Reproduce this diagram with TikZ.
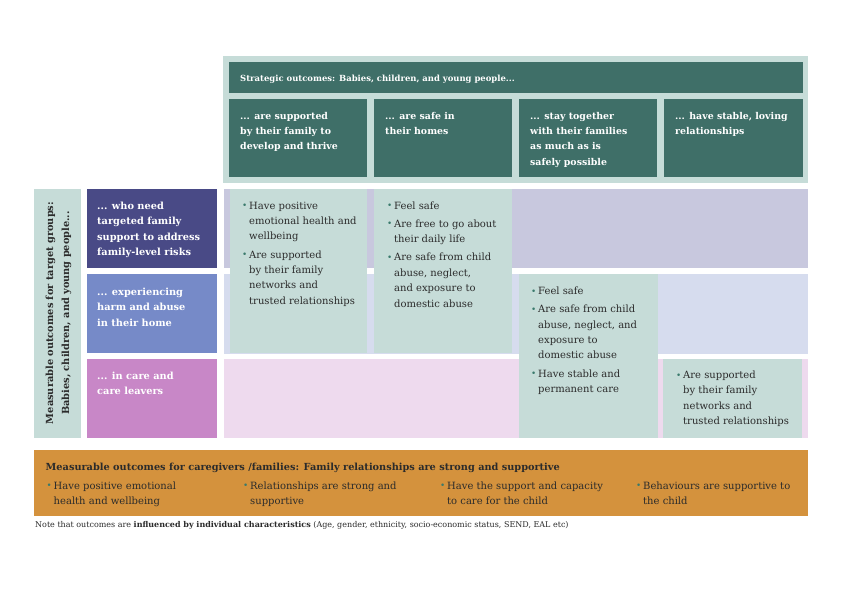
\documentclass[tikz,border=0pt]{standalone}
\usepackage{fontspec}
\setmainfont{DejaVu Serif}
\definecolor{lightg}{HTML}{C6DCD8}
\definecolor{darkt}{HTML}{3F6F68}
\definecolor{rowAl}{HTML}{494A86}
\definecolor{rowAb}{HTML}{C8C8DE}
\definecolor{rowBl}{HTML}{768AC8}
\definecolor{rowBb}{HTML}{D6DCEE}
\definecolor{rowCl}{HTML}{C887C7}
\definecolor{rowCb}{HTML}{EEDAEE}
\definecolor{orng}{HTML}{D4923D}
\definecolor{bul}{HTML}{3A7A6C}
\definecolor{txt}{HTML}{2B2B2B}
\newcommand{\txl}[1]{\vtop{\hsize=260pt\parindent=0pt\parskip=2.8pt\relax #1}}
\newcommand{\bitem}[1]{\par\hangindent=7pt\hangafter=1\noindent\makebox[7pt][l]{\raisebox{0.4pt}{\textcolor{bul}{\fontsize{8.8}{8.8}\selectfont\textbullet}}}#1}
\tikzset{
  body/.style={anchor=base west, inner sep=0pt, text=txt, font=\fontsize{10}{15.4}\selectfont},
  tealtxt/.style={anchor=base west, inner sep=0pt, text=white, font=\fontsize{9.4}{15.4}\selectfont\bfseries},
  rowtxt/.style={anchor=base west, inner sep=0pt, text=white, font=\fontsize{9.8}{15.5}\selectfont\bfseries},
}
\begin{document}
\begin{tikzpicture}[x=1pt,y=-1pt]
\useasboundingbox (0,0) rectangle (841,595);
\fill[white] (0,0) rectangle (841,595);
% top strategic block
\fill[lightg] (223,56) rectangle (808,183);
\fill[darkt] (229,62) rectangle (803,93);
\fill[darkt] (229,99) rectangle (367,177);
\fill[darkt] (374,99) rectangle (512,177);
\fill[darkt] (519,99) rectangle (657,177);
\fill[darkt] (664,99) rectangle (803,177);
\node[tealtxt, font=\fontsize{8.45}{12}\selectfont\bfseries] (hdr) at (240,81) {Strategic outcomes: Babies, children, and young people...};
\node[tealtxt] (s1) at (240,119) {\txl{... are supported\\by their family to\\develop and thrive}};
\node[tealtxt] (s2) at (385,119) {\txl{... are safe in\\their homes}};
\node[tealtxt] (s3) at (530,119) {\txl{... stay together\\with their families\\as much as is\\safely possible}};
\node[tealtxt] (s4) at (675,119) {\txl{... have stable, loving\\relationships}};
% left vertical label
\fill[lightg] (34,189) rectangle (81,438);
\node[rotate=90, align=center, text=txt, inner sep=0pt, font=\fontsize{9.8}{16}\selectfont\bfseries] (vlab) at (58.5,313) {Measurable outcomes for target groups:\\Babies, children, and young people...};
% row labels
\fill[rowAl] (87,189) rectangle (217,268);
\fill[rowBl] (87,274) rectangle (217,353);
\fill[rowCl] (87,359) rectangle (217,438);
\node[rowtxt] (r1) at (97,209) {\txl{... who need\\targeted family\\support to address\\family-level risks}};
\node[rowtxt] (r2) at (97,295) {\txl{... experiencing\\harm and abuse\\in their home}};
\node[rowtxt] (r3) at (97,379) {\txl{... in care and\\care leavers}};
% row backgrounds
\fill[rowAb] (224,189) rectangle (808,268);
\fill[rowBb] (224,274) rectangle (808,354);
\fill[rowCb] (224,359) rectangle (808,438);
% green cells
\fill[lightg] (230,189) rectangle (367,353);
\fill[lightg] (374,189) rectangle (512,353);
\fill[lightg] (519,274) rectangle (658,438);
\fill[lightg] (663,359) rectangle (802,438);
\node[body] (c1) at (242,209) {\txl{\bitem{Have positive\\emotional health and\\wellbeing}\bitem{Are supported\\by their family\\networks and\\trusted relationships}}};
\node[body] (c2) at (387,209) {\txl{\bitem{Feel safe}\bitem{Are free to go about\\their daily life}\bitem{Are safe from child\\abuse, neglect,\\and exposure to\\domestic abuse}}};
\node[body] (c3) at (531,294.5) {\txl{\bitem{Feel safe}\bitem{Are safe from child\\abuse, neglect, and\\exposure to\\domestic abuse}\bitem{Have stable and\\permanent care}}};
\node[body] (c4) at (676,378.5) {\txl{\bitem{Are supported\\by their family\\networks and\\trusted relationships}}};
% caregivers block
\fill[orng] (34,450) rectangle (808,516);
\node[anchor=base west, inner sep=0pt, text=txt, font=\fontsize{9.75}{12}\selectfont\bfseries] (care) at (45.5,470) {Measurable outcomes for caregivers /families: Family relationships are strong and supportive};
\node[body] (f1) at (46.5,489.3) {\txl{\bitem{Have positive emotional\\health and wellbeing}}};
\node[body] (f2) at (243,489.3) {\txl{\bitem{Relationships are strong and\\supportive}}};
\node[body] (f3) at (440,489.3) {\txl{\bitem{Have the support and capacity\\to care for the child}}};
\node[body] (f4) at (636,489.3) {\txl{\bitem{Behaviours are supportive to\\the child}}};
% note
\node[anchor=base west, inner sep=0pt, text=txt, font=\fontsize{8}{9}\selectfont] (note) at (35,527) {Note that outcomes are \textbf{influenced by individual characteristics} (Age, gender, ethnicity, socio-economic status, SEND, EAL etc)};
\end{tikzpicture}
\end{document}
